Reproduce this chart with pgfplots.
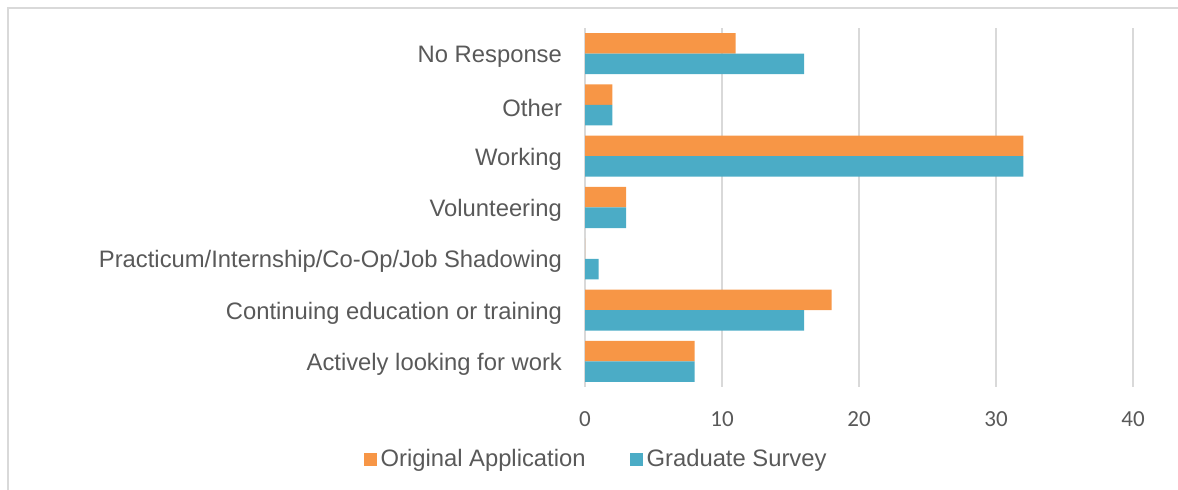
\documentclass[border=0pt]{standalone}
\usepackage{pgfplots}
\pgfplotsset{compat=1.18}
\usepackage{fontspec}
\setmainfont{Liberation Sans}
\newfontfamily\tickfont{Carlito}
\definecolor{corange}{HTML}{F79646}
\definecolor{cblue}{HTML}{4BACC6}
\definecolor{cgrid}{HTML}{D9D9D9}
\definecolor{ctext}{HTML}{595959}
\begin{document}
\begin{tikzpicture}
\useasboundingbox (0,0) rectangle (589pt,245pt);
\draw[cgrid, line width=1pt] (4pt,0) -- (4pt,240.75pt) -- (589pt,240.75pt);
\begin{axis}[
  at={(292.5pt,51.5pt)}, anchor=south west,
  scale only axis, width=274pt, height=179.5pt,
  xmin=0, xmax=40, ymin=-0.5, ymax=6.5,
  xtick={0,10,20,30,40},
  ytick={0,1,2,3,4,5,6},
  yticklabels={Actively looking for work, Continuing education or training, Practicum/Internship/Co-Op/Job Shadowing, Volunteering, Working, Other, No Response},
  axis line style={draw=none},
  major tick length=0pt,
  xmajorgrids, grid style={cgrid, line width=0.9pt},
  yticklabel style={font=\fontsize{11.9pt}{13pt}\selectfont, text=ctext, xshift=-8pt, yshift=-1.5pt},
  xticklabel style={font=\tickfont\fontsize{11.5pt}{13pt}\selectfont, text=ctext, yshift=-9pt},
  /pgf/number format/assume math mode=true,
  xbar, bar width=0.4,
  legend style={at={(0.022,-0.203)}, anchor=center, draw=none, fill=none,
    legend columns=2, font=\fontsize{11.9pt}{13pt}\selectfont, text=ctext,
    /tikz/every even column/.append style={column sep=20pt}},
  legend image code/.code={\fill[#1] (0pt,-3.25pt) rectangle (6.5pt,3.25pt);},
]
\addplot[fill=corange, draw=none, bar shift=0.2] coordinates {
 (8,0) (18,1) (0,2) (3,3) (32,4) (2,5) (11,6)};
\addplot[fill=cblue, draw=none, bar shift=-0.2] coordinates {
 (8,0) (16,1) (1,2) (3,3) (32,4) (2,5) (16,6)};
\legend{Original Application, Graduate Survey}
\end{axis}
\end{tikzpicture}
\end{document}
